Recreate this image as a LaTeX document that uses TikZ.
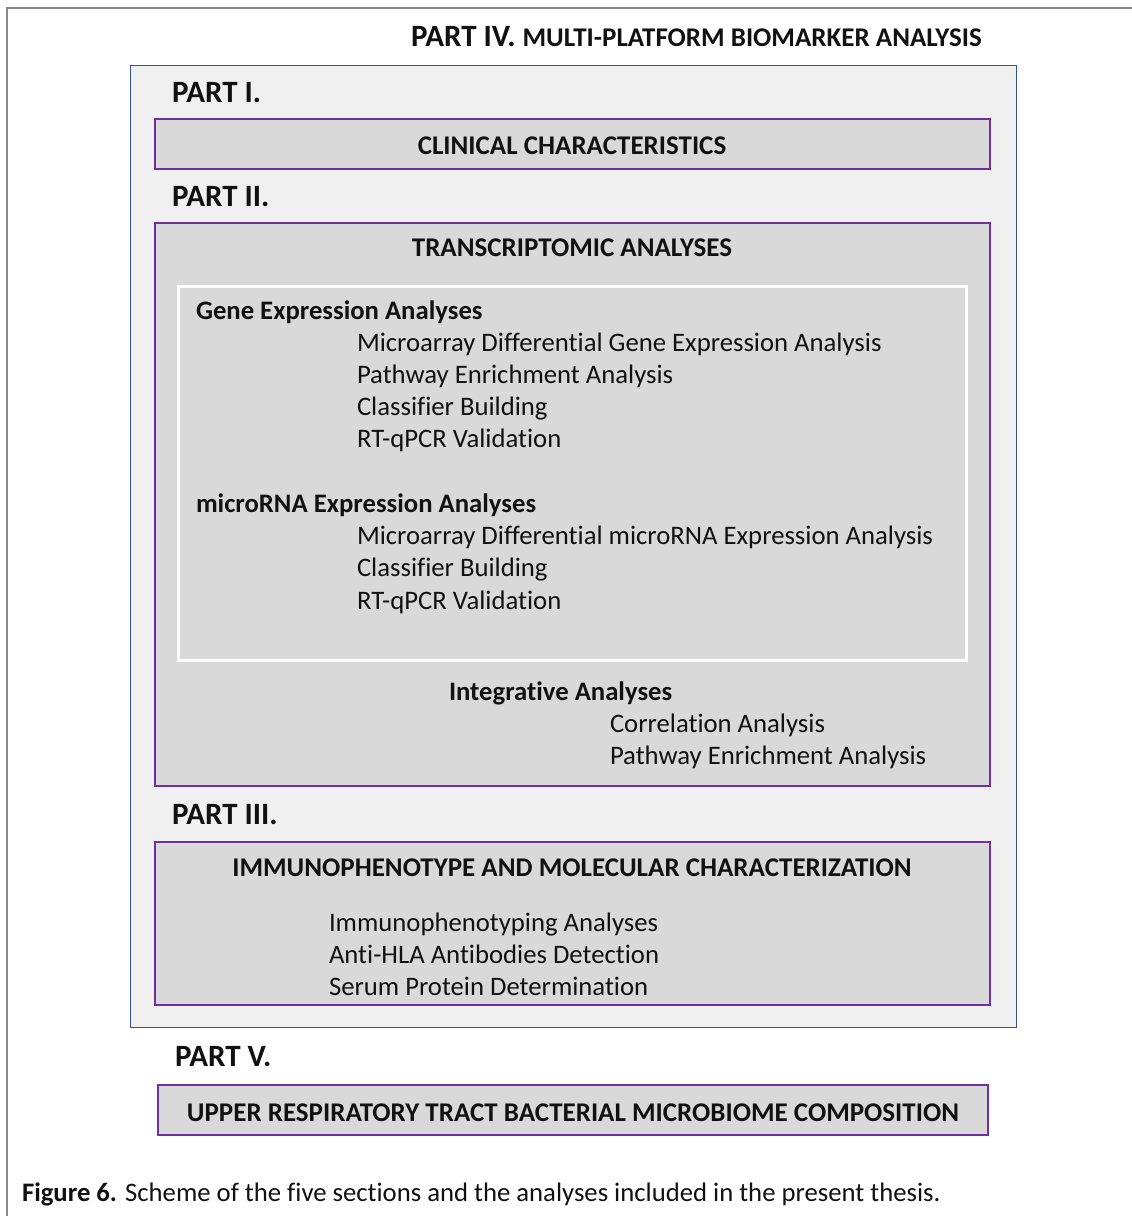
\documentclass[tikz,border=0pt]{standalone}
\usepackage{fontspec}
\setmainfont{Carlito}[Ligatures=NoCommon]
\definecolor{framegray}{HTML}{8A8A8A}
\definecolor{partblue}{HTML}{2F5597}
\definecolor{outerfill}{HTML}{F0F0F0}
\definecolor{boxfill}{HTML}{D9D9D9}
\definecolor{boxpurple}{HTML}{7030A0}
\definecolor{ink}{HTML}{111111}
\begin{document}
\begin{tikzpicture}[x=1pt,y=-1pt,
  every node/.style={inner sep=0pt, outer sep=0pt, text=ink},
  region/.style={anchor=north west, draw=partblue, fill=outerfill, line width=1pt},
  sectionbox/.style={anchor=north west, draw=boxpurple, fill=boxfill, line width=2pt},
  innerbox/.style={anchor=north west, draw=white, fill=boxfill, line width=3pt},
  partlabel/.style={anchor=base west, font=\fontsize{31}{36}\selectfont\bfseries},
  boxtitle/.style={anchor=base, font=\fontsize{27}{32}\selectfont\bfseries},
  subhead/.style={anchor=base west, font=\fontsize{26.7}{32}\selectfont\bfseries},
  item/.style={anchor=base west, font=\fontsize{26.7}{32}\selectfont}]
\useasboundingbox (0,0) rectangle (1132,1216);
\fill[white] (0,0) rectangle (1132,1216);

% page frame: only its left and top edges fall inside the picture
\coordinate (fbl) at (7,1216);
\coordinate (ftl) at (7,8);
\coordinate (ftr) at (1132,8);
\draw[framegray, line width=2pt] (fbl) -- (ftl) -- (ftr);

% Part IV: the region enclosing parts I-III
\node[region, minimum width=886, minimum height=962] (p4) at (130,65) {};
\node[anchor=base west, font=\fontsize{31}{36}\selectfont\bfseries] (p4lab) at (411,46)
  {PART IV. {\fontsize{27}{32}\selectfont MULTI-PLATFORM BIOMARKER ANALYSIS}};

% Part I
\node[partlabel] (p1lab) at (172,102) {PART I.};
\node[sectionbox, minimum width=835, minimum height=50] (clin) at (155,119) {};
\node[boxtitle] (clint) at (572,154) {CLINICAL CHARACTERISTICS};

% Part II
\node[partlabel] (p2lab) at (172,206) {PART II.};
\node[sectionbox, minimum width=835, minimum height=563] (trans) at (155,223) {};
\node[boxtitle] (transt) at (572,256) {TRANSCRIPTOMIC ANALYSES};
\node[innerbox, minimum width=788, minimum height=374] (expr) at (178,286) {};

\node[subhead] (gene) at (196,319) {Gene Expression Analyses};
\node[item] (g1) at (357,351) {Microarray Differential Gene Expression Analysis};
\node[item] (g2) at (357,383) {Pathway Enrichment Analysis};
\node[item] (g3) at (357,415) {Classifier Building};
\node[item] (g4) at (357,447) {RT-qPCR Validation};

\node[subhead] (mirna) at (196,512) {microRNA Expression Analyses};
\node[item] (m1) at (357,544) {Microarray Differential microRNA Expression Analysis};
\node[item] (m2) at (357,576) {Classifier Building};
\node[item] (m3) at (357,609) {RT-qPCR Validation};

\node[subhead] (integ) at (449,700) {Integrative Analyses};
\node[item] (i1) at (610,732) {Correlation Analysis};
\node[item] (i2) at (610,764) {Pathway Enrichment Analysis};

% Part III
\node[partlabel] (p3lab) at (172,824) {PART III.};
\node[sectionbox, minimum width=835, minimum height=163] (immuno) at (155,842) {};
\node[boxtitle] (immunot) at (572,876) {IMMUNOPHENOTYPE AND MOLECULAR CHARACTERIZATION};
\node[item] (im1) at (329,931) {Immunophenotyping Analyses};
\node[item] (im2) at (329,963) {Anti-HLA Antibodies Detection};
\node[item] (im3) at (329,995) {Serum Protein Determination};

% Part V
\node[partlabel] (p5lab) at (175,1066) {PART V.};
\node[sectionbox, minimum width=830, minimum height=50] (micro) at (158,1085) {};
\node[boxtitle] (microt) at (573,1121) {UPPER RESPIRATORY TRACT BACTERIAL MICROBIOME COMPOSITION};

% caption
\node[item] (cap) at (22,1201)
  {\textbf{Figure 6.} Scheme of the five sections and the analyses included in the present thesis.};
\end{tikzpicture}
\end{document}
